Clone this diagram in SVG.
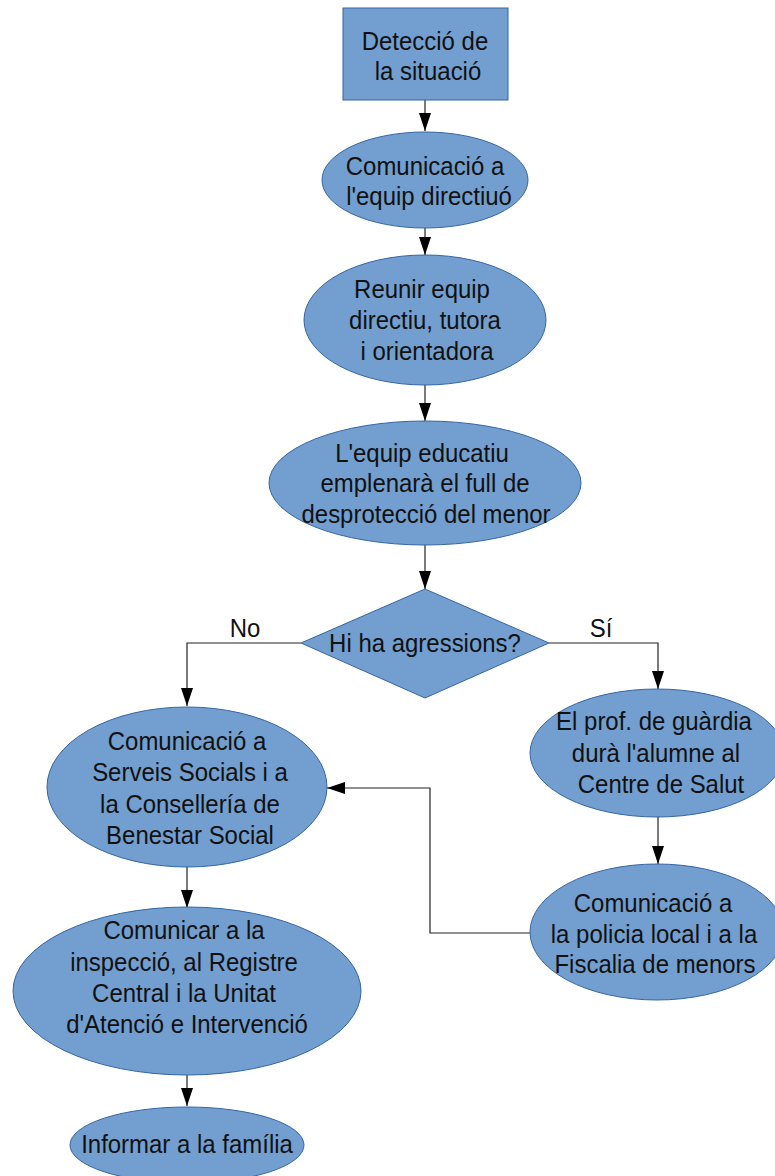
<svg xmlns="http://www.w3.org/2000/svg" width="775" height="1176" viewBox="0 0 775 1176">
<style>
.shape{fill:#729fcf;stroke:#3465a4;stroke-width:1}
.lbl{font-family:"Liberation Sans",Arial,sans-serif;font-size:25.5px;fill:#111;text-anchor:middle}
.edge{fill:none;stroke:#222;stroke-width:1.2}
</style>
<defs>
<marker id="arr" markerWidth="18" markerHeight="12" refX="18" refY="6" viewBox="0 0 18 12" orient="auto" markerUnits="userSpaceOnUse">
<path d="M0,0 L18,6 L0,12 Z" fill="#000"/>
</marker>
</defs>
<rect width="775" height="1176" fill="#fff"/>
<g id="connectors">
<path class="edge" d="M425,100 V131" marker-end="url(#arr)"/>
<path class="edge" d="M425,228 V255" marker-end="url(#arr)"/>
<path class="edge" d="M425,385 V421" marker-end="url(#arr)"/>
<path class="edge" d="M425,545 V589" marker-end="url(#arr)"/>
<path class="edge" d="M301,643 H187 V706" marker-end="url(#arr)"/>
<path class="edge" d="M549,643 H658 V689" marker-end="url(#arr)"/>
<path class="edge" d="M658,817 V864" marker-end="url(#arr)"/>
<path class="edge" d="M530,933 H430 V788 H327" marker-end="url(#arr)"/>
<path class="edge" d="M187,867 V908" marker-end="url(#arr)"/>
<path class="edge" d="M187,1075 V1106" marker-end="url(#arr)"/>
<text class="lbl" transform="translate(245,637) scale(0.94,1)">No</text>
<text class="lbl" transform="translate(601,637) scale(0.94,1)">Sí</text>
</g>
<g id="n1">
<rect class="shape" x="343" y="8" width="165" height="92"/>
<text class="lbl" transform="translate(425,50) scale(0.94,1)">Detecció de</text>
<text class="lbl" transform="translate(428,80) scale(0.94,1)">la situació</text>
</g>
<g id="n2">
<ellipse class="shape" cx="425" cy="180" rx="103" ry="48"/>
<text class="lbl" transform="translate(425,175) scale(0.94,1)">Comunicació a</text>
<text class="lbl" transform="translate(429,205) scale(0.94,1)">l'equip directiuó</text>
</g>
<g id="n3">
<ellipse class="shape" cx="425" cy="320" rx="121" ry="65"/>
<text class="lbl" transform="translate(422,298) scale(0.94,1)">Reunir equip</text>
<text class="lbl" transform="translate(425,329) scale(0.94,1)">directiu, tutora</text>
<text class="lbl" transform="translate(427,360) scale(0.94,1)">i orientadora</text>
</g>
<g id="n4">
<ellipse class="shape" cx="425" cy="483" rx="156" ry="62"/>
<text class="lbl" transform="translate(422,462) scale(0.94,1)">L'equip educatiu</text>
<text class="lbl" transform="translate(425,492) scale(0.94,1)">emplenarà el full de</text>
<text class="lbl" transform="translate(426,523) scale(0.94,1)">desprotecció del menor</text>
</g>
<g id="n5">
<polygon class="shape" points="425,589 549,643 425,698 301,643"/>
<text class="lbl" transform="translate(425,652) scale(0.94,1)">Hi ha agressions?</text>
</g>
<g id="n6">
<ellipse class="shape" cx="187" cy="787" rx="140" ry="80"/>
<text class="lbl" transform="translate(187,750) scale(0.94,1)">Comunicació a</text>
<text class="lbl" transform="translate(190,781) scale(0.94,1)">Serveis Socials i a</text>
<text class="lbl" transform="translate(190,813) scale(0.94,1)">la Consellería de</text>
<text class="lbl" transform="translate(190,844) scale(0.94,1)">Benestar Social</text>
</g>
<g id="n7">
<ellipse class="shape" cx="187" cy="991" rx="174" ry="84"/>
<text class="lbl" transform="translate(184,939) scale(0.94,1)">Comunicar a la</text>
<text class="lbl" transform="translate(184,971) scale(0.94,1)">inspecció, al Registre</text>
<text class="lbl" transform="translate(184,1002) scale(0.94,1)">Central i la Unitat</text>
<text class="lbl" transform="translate(187,1033) scale(0.94,1)">d'Atenció e Intervenció</text>
</g>
<g id="n8">
<ellipse class="shape" cx="187" cy="1145" rx="117" ry="38"/>
<text class="lbl" transform="translate(187,1153) scale(0.94,1)">Informar a la família</text>
</g>
<g id="n9">
<ellipse class="shape" cx="657" cy="753" rx="127" ry="64"/>
<text class="lbl" transform="translate(654,730) scale(0.94,1)">El prof. de guàrdia</text>
<text class="lbl" transform="translate(656,762) scale(0.94,1)">durà l'alumne al</text>
<text class="lbl" transform="translate(661,793) scale(0.94,1)">Centre de Salut</text>
</g>
<g id="n10">
<ellipse class="shape" cx="657" cy="932" rx="127" ry="68"/>
<text class="lbl" transform="translate(653,912) scale(0.94,1)">Comunicació a</text>
<text class="lbl" transform="translate(654,943) scale(0.94,1)">la policia local i a la</text>
<text class="lbl" transform="translate(655,973) scale(0.94,1)">Fiscalia de menors</text>
</g>
</svg>
